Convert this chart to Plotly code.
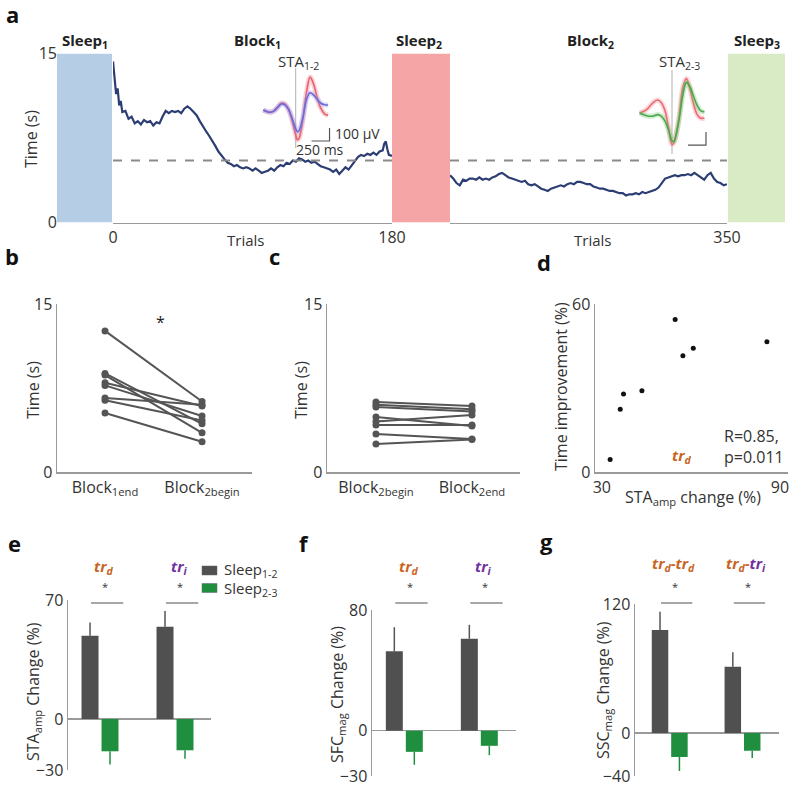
import plotly.graph_objects as go

W, H = 800, 789
def X(px): return px / W
def Y(py): return 1 - py / H

FONT = "Open Sans"
TXT = "#333333"
AX = "#9a9a9a"
ORANGE = "#c8641e"
PURPLE = "#7030a0"
GREY_BAR = "#505050"
GREEN_BAR = "#1f8f3f"

# ---------------- data ----------------
trials_block1 = [0, 1, 2, 3, 4, 5, 6,
                 8, 10, 12, 14, 16, 18, 20, 22, 24, 26,
                 28, 30, 32, 34, 36, 38, 40, 42, 44, 46,
                 48, 50, 52, 54, 56, 58, 60, 62, 64, 66,
                 68, 70, 72, 74, 76, 78, 80, 82, 84, 86,
                 88, 90, 92, 94, 96, 98, 100, 102, 104, 106,
                 108, 110, 112, 114, 116, 118, 120, 122, 124, 126,
                 128, 130, 132, 134, 136, 138, 140, 142, 144, 146,
                 148, 150, 152, 154, 156, 158, 160, 162, 164, 166,
                 168, 170, 172, 174,
                 175, 176, 177, 178, 180]
time_block1 = [14.3, 12.8, 11.4, 11.9, 10.4, 10.8, 9.8,
               9.9, 9.2, 9.4, 8.8, 9.0, 8.7, 9.1, 8.9, 9.0, 8.6,
               8.9, 8.8, 9.4, 9.9, 9.7, 9.9, 9.8, 9.9, 9.7, 10.1,
               10.3, 10.1, 9.8, 9.5, 9.0, 8.5, 8.1, 7.7, 7.3, 6.8,
               6.3, 5.9, 5.6, 5.3, 5.2, 5.0, 5.1, 4.9, 4.8, 4.9,
               4.8, 4.6, 4.8, 4.6, 4.4, 4.5, 4.6, 4.8, 4.6, 4.9,
               5.1, 5.0, 5.3, 5.2, 5.5, 5.4, 5.7, 5.6, 5.4, 5.5,
               5.3, 5.4, 5.2, 5.0, 4.9, 4.8, 4.7, 4.5, 4.7, 4.3,
               4.6, 4.9, 4.7, 5.1, 5.4, 5.8, 6.0, 5.9, 6.1, 6.0,
               6.2, 6.0, 6.3, 6.4,
               7.0, 7.2, 6.5, 6.0, 5.9]
trials_block2 = list(range(180, 351, 2))
time_block2 = [4.2, 3.9, 3.5, 3.3, 3.8, 3.7, 3.9, 3.9, 3.8, 4.0,
               3.8, 3.9, 3.8, 4.0, 4.1, 4.3, 4.4, 4.2, 4.0, 3.9,
               3.8, 3.7, 3.6, 3.7, 3.4, 3.3, 3.4, 3.2, 3.0, 2.9,
               2.8, 3.0, 3.1, 3.2, 3.3, 3.2, 3.4, 3.5, 3.4, 3.6,
               3.6, 3.5, 3.4, 3.4, 3.2, 3.1, 3.0, 3.0, 2.9, 2.8,
               2.8, 2.7, 2.6, 2.6, 2.4, 2.5, 2.5, 2.6, 2.5, 2.7,
               2.6, 2.7, 2.8, 2.9, 3.1, 3.5, 3.9, 4.0, 4.1, 4.2,
               4.1, 4.2, 4.2, 4.3, 4.2, 4.4, 4.2, 4.0, 3.8, 4.2,
               4.4, 3.9, 3.6, 3.5, 3.3, 3.4]
criterion_time = 5.5

sta_t_ms = [-450, -400, -350, -300, -250, -200, -150, -100, -50, 0,
            25, 50, 100, 150, 200, 250, 300, 350, 400, 450]
sta12_sleep1 = [0, -12, -17, -6, 23, 52, 46, 6, -80, -190,
                -230, -213, -69, 138, 253, 196, 92, 12, -29, -40]
sta12_sleep2 = [0, -12, -17, -6, 21, 46, 40, 6, -63, -144,
                -167, -155, -58, 81, 132, 115, 81, 52, 40, 38]
sta23_sleep2 = [0, 12, 29, 58, 86, 100, 81, 23, -104, -242,
                -230, -184, -23, 196, 265, 184, 69, -12, -40, -38]
sta23_sleep3 = [0, -12, -21, -25, -21, -12, -23, -58, -127, -213,
                -219, -184, -46, 138, 236, 201, 127, 58, 17, 10]
scale_ms = 250
scale_uv = 100

b_labels = ["Block<sub>1end</sub>", "Block<sub>2begin</sub>"]
b_block1end = [12.6, 8.8, 8.65, 7.97, 7.73, 6.6, 6.4, 5.27]
b_block2begin = [6.3, 4.3, 3.5, 5.9, 5.0, 6.0, 4.6, 2.7]

c_labels = ["Block<sub>2begin</sub>", "Block<sub>2end</sub>"]
c_block2begin = [6.26, 6.0, 5.8, 4.9, 4.5, 4.2, 3.4, 2.5]
c_block2end = [5.9, 5.6, 5.4, 4.1, 5.1, 4.2, 2.95, 2.9]

d_sta_change = [32.8, 36.2, 37.3, 43.5, 54.7, 57.3, 60.8, 85.6]
d_time_improvement = [4.5, 22.4, 27.9, 29.0, 54.5, 41.5, 44.2, 46.5]

legend_names = ["Sleep<sub>1-2</sub>", "Sleep<sub>2-3</sub>"]
ef_groups = ['<b><i><span style="color:%s">tr<sub>d</sub></span></i></b>' % ORANGE,
             '<b><i><span style="color:%s">tr<sub>i</sub></span></i></b>' % PURPLE]
g_groups = ['<b><i><span style="color:%s">tr<sub>d</sub>-tr<sub>d</sub></span></i></b>' % ORANGE,
            '<b><i><span style="color:%s">tr<sub>d</sub>-</span><span style="color:%s">tr<sub>i</sub></span></i></b>' % (ORANGE, PURPLE)]

e_sleep12 = [49.0, 54.3]
e_sleep12_err = [7.8, 9.3]
e_sleep23 = [-19.0, -18.4]
e_sleep23_err = [7.8, 5.0]

f_sleep12 = [52.6, 61.0]
f_sleep12_err = [16.0, 9.2]
f_sleep23 = [-14.0, -10.0]
f_sleep23_err = [8.6, 6.2]

g_sleep12 = [95.7, 61.6]
g_sleep12_err = [17.0, 13.6]
g_sleep23 = [-22.3, -16.5]
g_sleep23_err = [13.0, 6.7]

# ---------------- figure ----------------
fig = go.Figure()

# panel a: learning curves
fig.add_trace(go.Scatter(x=trials_block1, y=time_block1, mode="lines",
                         line=dict(color="#2b3d73", width=2.2), xaxis="x", yaxis="y"))
fig.add_trace(go.Scatter(x=trials_block2, y=time_block2, mode="lines",
                         line=dict(color="#2b3d73", width=2.2), xaxis="x2", yaxis="y"))
fig.add_trace(go.Scatter(x=[trials_block1[0], trials_block1[-1]], y=[criterion_time] * 2, mode="lines",
                         line=dict(color="#8a8a8a", width=2, dash="dash"), xaxis="x", yaxis="y"))
fig.add_trace(go.Scatter(x=[trials_block2[0], trials_block2[-1]], y=[criterion_time] * 2, mode="lines",
                         line=dict(color="#8a8a8a", width=2, dash="dash"), xaxis="x2", yaxis="y"))

# STA insets
def sta_inset(xa, ya, waves, yr):
    fig.add_trace(go.Scatter(x=[0, 0], y=yr, mode="lines", line=dict(color="#b0b0b0", width=1),
                             xaxis=xa, yaxis=ya))
    for vals, col, halo in waves:
        fig.add_trace(go.Scatter(x=sta_t_ms, y=vals, mode="lines", line=dict(color=halo, width=5, shape="spline"),
                                 xaxis=xa, yaxis=ya))
        fig.add_trace(go.Scatter(x=sta_t_ms, y=vals, mode="lines", line=dict(color=col, width=1.6, shape="spline"),
                                 xaxis=xa, yaxis=ya))

in1_y = [-292, 323]
in2_y = [-315, 331]
sta_inset("x3", "y3", [(sta12_sleep1, "#e8606e", "rgba(240,130,140,0.35)"),
                       (sta12_sleep2, "#6a6ad8", "rgba(150,150,240,0.35)")], in1_y)
sta_inset("x4", "y4", [(sta23_sleep2, "#ec6a72", "rgba(240,140,145,0.35)"),
                       (sta23_sleep3, "#4aa84a", "rgba(120,200,120,0.35)")], in2_y)
# scale bars
for xa, ya, x_end, y_base in [("x3", "y3", 470, -238), ("x4", "y4", 472, -246)]:
    fig.add_trace(go.Scatter(x=[x_end - scale_ms, x_end, x_end], y=[y_base, y_base, y_base + scale_uv],
                             mode="lines", line=dict(color="#555555", width=1.2), xaxis=xa, yaxis=ya))

# panel b and c: paired lines
for a, b in zip(b_block1end, b_block2begin):
    fig.add_trace(go.Scatter(x=[0, 1], y=[a, b], mode="lines+markers",
                             line=dict(color="#555555", width=2), marker=dict(size=7, color="#555555"),
                             xaxis="x5", yaxis="y5"))
for a, b in zip(c_block2begin, c_block2end):
    fig.add_trace(go.Scatter(x=[0, 1], y=[a, b], mode="lines+markers",
                             line=dict(color="#555555", width=2), marker=dict(size=7, color="#555555"),
                             xaxis="x6", yaxis="y6"))

# panel d: scatter
fig.add_trace(go.Scatter(x=d_sta_change, y=d_time_improvement, mode="markers",
                         marker=dict(size=5, color="#111111"), xaxis="x7", yaxis="y7"))

# panels e, f, g: bars
def bars(xa, ya, s12, e12, s23, e23):
    fig.add_trace(go.Bar(x=[0, 1], y=s12, name=legend_names[0], marker=dict(color=GREY_BAR, line=dict(width=0)),
                         error_y=dict(type="data", symmetric=False, array=e12, arrayminus=[0, 0],
                                      width=0, thickness=1.5, color="#555555"),
                         showlegend=False, xaxis=xa, yaxis=ya))
    fig.add_trace(go.Bar(x=[0, 1], y=s23, name=legend_names[1], marker=dict(color=GREEN_BAR, line=dict(width=0)),
                         error_y=dict(type="data", symmetric=False, array=[0, 0], arrayminus=e23,
                                      width=0, thickness=1.5, color="#1f8f3f"),
                         showlegend=False, xaxis=xa, yaxis=ya))

bars("x8", "y8", e_sleep12, e_sleep12_err, e_sleep23, e_sleep23_err)
bars("x9", "y9", f_sleep12, f_sleep12_err, f_sleep23, f_sleep23_err)
bars("x10", "y10", g_sleep12, g_sleep12_err, g_sleep23, g_sleep23_err)

# ---------------- axes ----------------
tickfont = dict(family=FONT, size=16, color=TXT)

def base_axis(**kw):
    d = dict(showgrid=False, zeroline=False, showline=False, ticks="", tickfont=tickfont, fixedrange=True,
             automargin=False, ticklabeloverflow="allow")
    d.update(kw)
    return d

layout_axes = dict(
    xaxis=base_axis(domain=[X(113), X(392)], range=[0, 180], anchor="y", showline=True, linecolor=AX,
                    linewidth=1.5, tickvals=[0, 180]),
    xaxis2=base_axis(domain=[X(450), X(727)], range=[180, 350], anchor="y", showline=True, linecolor=AX,
                     linewidth=1.5, tickvals=[350]),
    yaxis=base_axis(domain=[Y(222.5), Y(53.5)], range=[0, 15], anchor="free", position=X(57),
                    tickvals=[0, 15]),
    xaxis3=base_axis(domain=[X(259.7), X(331.7)], range=[-500, 500], anchor="y3", showticklabels=False),
    yaxis3=base_axis(domain=[Y(148), Y(68)], range=in1_y, anchor="x3", showticklabels=False),
    xaxis4=base_axis(domain=[X(636), X(708)], range=[-500, 500], anchor="y4", showticklabels=False),
    yaxis4=base_axis(domain=[Y(154), Y(70)], range=in2_y, anchor="x4", showticklabels=False),
    xaxis5=base_axis(domain=[X(57), X(252)], range=[-0.495, 1.515], anchor="y5", showline=True,
                     linecolor=AX, linewidth=1.5, tickvals=[0, 1], ticktext=b_labels),
    yaxis5=base_axis(domain=[Y(472), Y(304)], range=[0, 15], anchor="x5", showline=True,
                     linecolor=AX, linewidth=1.5, tickvals=[0, 15]),
    xaxis6=base_axis(domain=[X(327), X(520)], range=[-0.51, 1.5], anchor="y6", showline=True,
                     linecolor=AX, linewidth=1.5, tickvals=[0, 1], ticktext=c_labels),
    yaxis6=base_axis(domain=[Y(472), Y(304)], range=[0, 15], anchor="x6", showline=True,
                     linecolor=AX, linewidth=1.5, tickvals=[0, 15]),
    xaxis7=base_axis(domain=[X(595), X(788)], range=[27.7, 92.7], anchor="y7", showline=True,
                     linecolor=AX, linewidth=1.5, tickvals=[30, 90]),
    yaxis7=base_axis(domain=[Y(472), Y(304)], range=[0, 60], anchor="x7", showline=True,
                     linecolor=AX, linewidth=1.5, tickvals=[0, 60]),
    xaxis8=base_axis(domain=[X(68), X(211)], range=[-0.427, 1.48], anchor="y8", showticklabels=False),
    yaxis8=base_axis(domain=[Y(770), Y(600)], range=[-30, 70], anchor="x8", showline=True,
                     linecolor=AX, linewidth=1.5, tickvals=[-30, 0, 70], zeroline=True,
                     zerolinecolor=AX, zerolinewidth=1.5),
    xaxis9=base_axis(domain=[X(372), X(516)], range=[-0.431, 1.489], anchor="y9", showticklabels=False),
    yaxis9=base_axis(domain=[Y(776), Y(610)], range=[-30, 80], anchor="x9", showline=True,
                     linecolor=AX, linewidth=1.5, tickvals=[-30, 0, 80], zeroline=True,
                     zerolinecolor=AX, zerolinewidth=1.5),
    xaxis10=base_axis(domain=[X(635), X(779)], range=[-0.477, 1.501], anchor="y10", showticklabels=False),
    yaxis10=base_axis(domain=[Y(776), Y(604)], range=[-40, 120], anchor="x10", showline=True,
                      linecolor=AX, linewidth=1.5, tickvals=[-40, 0, 120], zeroline=True,
                      zerolinecolor=AX, zerolinewidth=1.5),
)

# ---------------- shapes ----------------
shapes = []
for x0, x1, col in [(57, 112, "#b6cde6"), (392, 450, "#f5a5a5"), (728, 785, "#d9ebc4")]:
    shapes.append(dict(type="rect", xref="paper", yref="y", x0=X(x0), x1=X(x1), y0=0, y1=15,
                       fillcolor=col, line=dict(width=0), layer="below"))
for xa in ["x8", "x9", "x10"]:
    for g in [0, 1]:
        shapes.append(dict(type="line", xref=xa, yref="paper", x0=g - 0.12, x1=g + 0.31,
                           y0=Y(603), y1=Y(603), line=dict(color="#8a8a8a", width=1.5)))
# legend swatches (panel e)
for col, py in [(GREY_BAR, 570.5), (GREEN_BAR, 588)]:
    shapes.append(dict(type="rect", xref="paper", yref="paper", x0=X(202), x1=X(217),
                       y0=Y(py + 4.5), y1=Y(py - 4.5), fillcolor=col, line=dict(color="#666666", width=0.5)))

# ---------------- annotations ----------------
ann = []
def text(px, py, s, size=16, bold=False, color=TXT, xanchor="center", angle=0, **kw):
    ann.append(dict(x=X(px), y=Y(py), xref="paper", yref="paper", text=("<b>%s</b>" % s) if bold else s,
                    showarrow=False, xanchor=xanchor, yanchor="middle", textangle=angle,
                    font=dict(family=FONT, size=size, color=color), **kw))

for lab, px, py in [("a", 12, 14), ("b", 12, 256), ("c", 274, 256), ("d", 544, 262),
                    ("e", 14, 543), ("f", 304, 543), ("g", 546, 541)]:
    text(px, py, lab, size=22, bold=True, color="#111111")

for lab, px in [("Sleep<sub>1</sub>", 85), ("Block<sub>1</sub>", 257), ("Sleep<sub>2</sub>", 419),
                ("Block<sub>2</sub>", 590), ("Sleep<sub>3</sub>", 757)]:
    text(px, 41, lab, size=15, bold=True, color="#222222")

text(298, 62, "STA<sub>1-2</sub>", size=15)
text(679, 62, "STA<sub>2-3</sub>", size=15)
text(333, 134, "100 µV", size=14, xanchor="left")
text(320, 149, "250 ms", size=14)
text(245, 240, "Trials", size=15)
text(592, 240, "Trials", size=15)
text(31, 139, "Time (s)", angle=-90)
text(33, 390, "Time (s)", angle=-90)
text(301, 390, "Time (s)", angle=-90)
text(561, 387, "Time improvement (%)", angle=-90)
text(693, 497, "STA<sub>amp</sub> change (%)")
text(722, 446, "R=0.85,<br>p=0.011", xanchor="left", align="left")
text(681, 456, '<b><i><span style="color:%s">tr<sub>d</sub></span></i></b>' % ORANGE, size=15)
ann.append(dict(x=0.567, y=13.4, xref="x5", yref="y5", text="*", showarrow=False,
                font=dict(family=FONT, size=16, color="#222222")))

text(33, 692, "STA<sub>amp</sub> Change (%)", angle=-90)
text(337, 695, "SFC<sub>mag</sub> Change (%)", angle=-90)
text(603, 690, "SSC<sub>mag</sub> Change (%)", angle=-90)

# legend labels (panel e)
text(222, 570, legend_names[0], size=15, xanchor="left")
text(222, 589, legend_names[1], size=15, xanchor="left")

for xa, labels, py in [("x8", ef_groups, 580), ("x9", ef_groups, 580), ("x10", g_groups, 577)]:
    for g in [0, 1]:
        ann.append(dict(x=g + 0.05, y=Y(py), xref=xa, yref="paper", text=labels[g], showarrow=False,
                        font=dict(family=FONT, size=15)))
        ann.append(dict(x=g + 0.07, y=Y(596), xref=xa, yref="paper", text="*", showarrow=False,
                        font=dict(family=FONT, size=11, color="#333333")))

fig.update_layout(
    width=W, height=H, margin=dict(l=0, r=0, t=0, b=0),
    paper_bgcolor="white", plot_bgcolor="white",
    font=dict(family=FONT, size=16, color=TXT),
    barmode="group", bargap=0.467, bargroupgap=0.15,
    showlegend=False,
    shapes=shapes, annotations=ann,
    **layout_axes,
)
for tr in fig.data:
    tr.hoverinfo = "skip"

fig.write_html("out.html", config={"displayModeBar": False, "staticPlot": True},
               post_script="document.body.style.margin='0';document.body.style.overflow='hidden';")
